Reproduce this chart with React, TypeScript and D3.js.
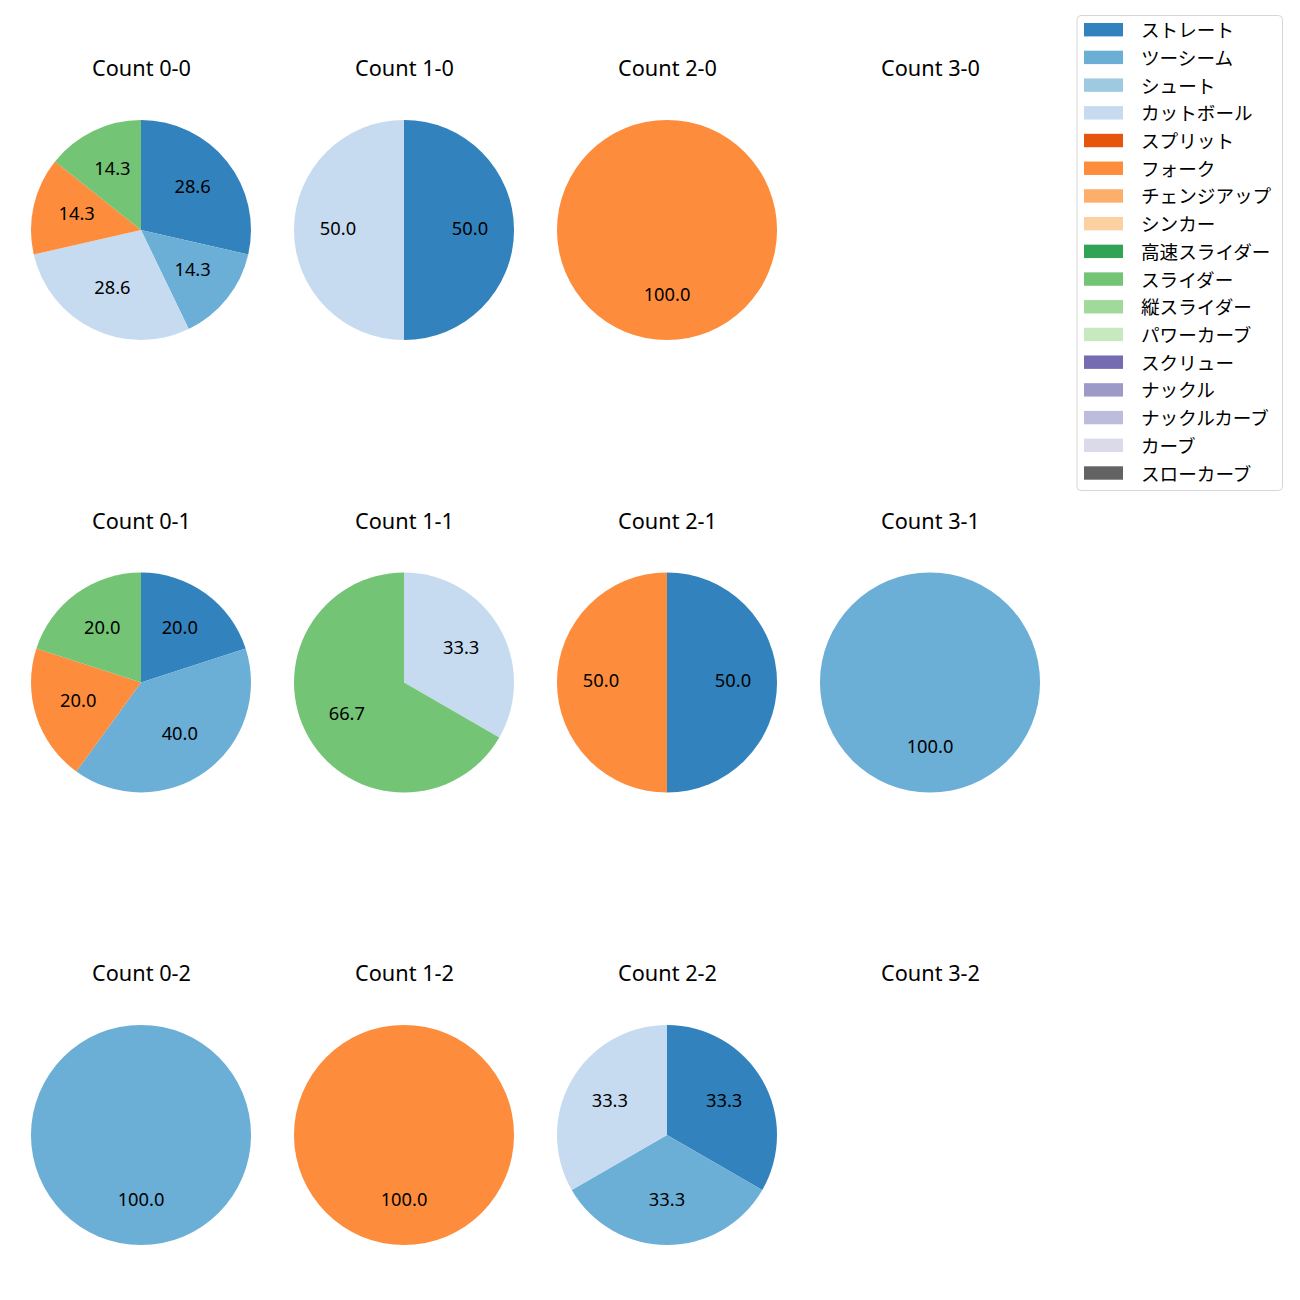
import React from "react";
import * as d3 from "d3";

const pitchTypes = [
  "ストレート", "ツーシーム", "シュート", "カットボール", "スプリット", "フォーク",
  "チェンジアップ", "シンカー", "高速スライダー", "スライダー", "縦スライダー",
  "パワーカーブ", "スクリュー", "ナックル", "ナックルカーブ", "カーブ", "スローカーブ",
];
const pitchColors = [
  "#3182bd", "#6baed6", "#9ecae1", "#c6dbef", "#e6550d", "#fd8d3c",
  "#fdae6b", "#fdd0a2", "#31a354", "#74c476", "#a1d99b", "#c7e9c0",
  "#756bb1", "#9e9ac8", "#bcbddc", "#dadaeb", "#636363",
];

const countTitles = [
  "Count 0-0", "Count 1-0", "Count 2-0", "Count 3-0",
  "Count 0-1", "Count 1-1", "Count 2-1", "Count 3-1",
  "Count 0-2", "Count 1-2", "Count 2-2", "Count 3-2",
];
// pitch counts per count situation, in pitchTypes order
const count00 = [2, 1, 0, 2, 0, 1, 0, 0, 0, 1, 0, 0, 0, 0, 0, 0, 0];
const count10 = [1, 0, 0, 1, 0, 0, 0, 0, 0, 0, 0, 0, 0, 0, 0, 0, 0];
const count20 = [0, 0, 0, 0, 0, 1, 0, 0, 0, 0, 0, 0, 0, 0, 0, 0, 0];
const count30 = [0, 0, 0, 0, 0, 0, 0, 0, 0, 0, 0, 0, 0, 0, 0, 0, 0];
const count01 = [1, 2, 0, 0, 0, 1, 0, 0, 0, 1, 0, 0, 0, 0, 0, 0, 0];
const count11 = [0, 0, 0, 1, 0, 0, 0, 0, 0, 2, 0, 0, 0, 0, 0, 0, 0];
const count21 = [1, 0, 0, 0, 0, 1, 0, 0, 0, 0, 0, 0, 0, 0, 0, 0, 0];
const count31 = [0, 1, 0, 0, 0, 0, 0, 0, 0, 0, 0, 0, 0, 0, 0, 0, 0];
const count02 = [0, 1, 0, 0, 0, 0, 0, 0, 0, 0, 0, 0, 0, 0, 0, 0, 0];
const count12 = [0, 0, 0, 0, 0, 1, 0, 0, 0, 0, 0, 0, 0, 0, 0, 0, 0];
const count22 = [1, 1, 0, 1, 0, 0, 0, 0, 0, 0, 0, 0, 0, 0, 0, 0, 0];
const count32 = [0, 0, 0, 0, 0, 0, 0, 0, 0, 0, 0, 0, 0, 0, 0, 0, 0];
const countData = [
  count00, count10, count20, count30,
  count01, count11, count21, count31,
  count02, count12, count22, count32,
];

const W = 1300;
const H = 1300;
const FONT = "'Noto Sans', 'Noto Sans CJK JP', sans-serif";

export default function App() {
  const colX = d3.scalePoint<number>().domain([0, 1, 2, 3]).range([141, 930]);
  const rowY = d3.scalePoint<number>().domain([0, 1, 2]).range([230, 1135]);
  const R = 110;
  const arc = d3.arc<d3.PieArcDatum<number>>().innerRadius(0).outerRadius(R);
  const pie = d3.pie<number>().sort(null).startAngle(0).endAngle(2 * Math.PI);

  const legendY = d3.scaleLinear().domain([0, pitchTypes.length - 1]).range([29.7, 473]);

  return (
    <svg width={W} height={H} style={{ position: "absolute", left: 0, top: 0, background: "#fff" }} fontFamily={FONT}>
      <rect x={0} y={0} width={W} height={H} fill="#fff" />
      {countData.map((vals, i) => {
        const cx = colX(i % 4)!;
        const cy = rowY(Math.floor(i / 4))!;
        const total = d3.sum(vals);
        const items = vals.map((v, k) => ({ v, k })).filter((d) => d.v > 0);
        const arcs = total > 0 ? pie.value((d: any) => d.v)(items as any) : [];
        return (
          <g key={i}>
            <text x={cx + 0.5} y={cy - 154} textAnchor="middle" fontSize={21.7} fill="#000">
              {countTitles[i]}
            </text>
            <g transform={`translate(${cx},${cy})`}>
              {arcs.map((a: any, j: number) => (
                <path key={j} d={arc(a) as string} fill={pitchColors[a.data.k]} />
              ))}
              {arcs.map((a: any, j: number) => {
                const mid = (a.startAngle + a.endAngle) / 2;
                const lr = R * 0.6;
                const pct = (a.data.v / total) * 100;
                return (
                  <text key={"t" + j} x={lr * Math.sin(mid)} y={-lr * Math.cos(mid) + 4.6} textAnchor="middle"
                    fontSize={18.3} fill="#000">
                    {pct.toFixed(1)}
                  </text>
                );
              })}
            </g>
          </g>
        );
      })}
      <g>
        <rect x={1077} y={15.5} width={205.5} height={475} rx={4} fill="#fff" stroke="#d6d6d6" strokeWidth={1} />
        {pitchTypes.map((name, k) => (
          <g key={k} transform={`translate(0,${legendY(k)})`}>
            <rect x={1084} y={-6.7} width={39} height={13.4} fill={pitchColors[k]} />
            <text x={1141} y={0} dominantBaseline="central" fontSize={18.6} fill="#000">{name}</text>
          </g>
        ))}
      </g>
    </svg>
  );
}
